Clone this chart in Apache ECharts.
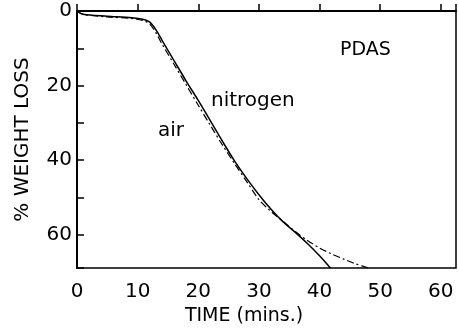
<!DOCTYPE html>
<html>
<head>
<meta charset="utf-8">
<script src="https://cdn.jsdelivr.net/npm/echarts@6/dist/echarts.min.js"></script>
<style>
  html, body { margin: 0; padding: 0; background: #fff; }
  #chart { width: 459px; height: 331px; }
</style>
</head>
<body>
<div id="chart"></div>
<script>
// Thermogravimetric weight loss of PDAS: time (min) vs % weight loss
const nitrogenTime = [0, 1, 5, 9, 11, 12, 13, 14, 16, 18, 20, 22, 24, 26, 28, 30, 32, 34, 36, 38, 40, 41.8];
const nitrogenLoss = [0, 0.9, 1.4, 1.8, 2.3, 3, 5, 7.8, 13.3, 18.8, 24, 29.5, 35, 40.3, 45, 49.3, 53.2, 56.6, 59.4, 62.4, 65.7, 69];

const airTime = [0, 1, 5, 9, 11, 12, 13, 14, 16, 18, 20, 22, 24, 26, 28, 30, 32, 34, 36, 38, 40, 42, 44, 46, 48.2];
const airLoss = [0, 0.9, 1.6, 2.0, 2.6, 3.5, 5.8, 8.8, 14.3, 19.8, 25.3, 30.7, 36, 41, 45.8, 50.6, 53.8, 56.5, 59.2, 61.6, 63.6, 65.2, 66.6, 67.9, 69];

const xTicks = [0, 10, 20, 30, 40, 50, 60];
const yLabels = [0, 20, 40, 60];

const font = '"DejaVu Sans", sans-serif';
const pair = (xs, ys) => xs.map((x, i) => [x, ys[i]]);

const chart = echarts.init(document.getElementById('chart'));
chart.setOption({
  animation: false,
  backgroundColor: '#fff',
  grid: { left: 77, top: 11, right: 2, bottom: 55, show: true, borderColor: '#000', borderWidth: 1.5, backgroundColor: 'transparent' },
  xAxis: {
    type: 'value', min: 0, max: 62.5, interval: 10,
    name: 'TIME (mins.)', nameLocation: 'middle', nameGap: 32,
    nameTextStyle: { color: '#000', fontSize: 19, fontFamily: font, padding: [0, 45, 0, 0] },
    axisLine: { show: true, lineStyle: { color: '#000', width: 2 } },
    axisTick: { show: true, inside: true, length: 7, lineStyle: { color: '#000', width: 1.5 } },
    axisLabel: {
      color: '#000', fontSize: 20, fontFamily: font, margin: 14,
      formatter: v => (xTicks.indexOf(v) >= 0 ? String(v) : '')
    },
    splitLine: { show: false }
  },
  yAxis: {
    type: 'value', inverse: true, min: 0, max: 69, interval: 10,
    name: '% WEIGHT LOSS', nameLocation: 'middle', nameGap: 44, nameRotate: 90,
    nameTextStyle: { color: '#000', fontSize: 20, fontFamily: font },
    axisLine: { show: true, lineStyle: { color: '#000', width: 2 } },
    axisTick: { show: true, inside: true, length: 7, lineStyle: { color: '#000', width: 1.5 } },
    axisLabel: {
      color: '#000', fontSize: 20, fontFamily: font, margin: 5,
      formatter: v => (yLabels.indexOf(v) >= 0 ? String(v) : '')
    },
    splitLine: { show: false }
  },
  series: [
    {
      name: 'nitrogen', type: 'line', showSymbol: false, smooth: 0.3,
      data: pair(nitrogenTime, nitrogenLoss),
      lineStyle: { color: '#000', width: 1.5 }
    },
    {
      name: 'air', type: 'line', showSymbol: false, smooth: 0.3,
      data: pair(airTime, airLoss),
      lineStyle: { color: '#000', width: 1.2, type: [7, 3, 2, 3] }
    }
  ],
  graphic: [
    { type: 'text', left: 340, top: 41, style: { text: 'PDAS', fill: '#000', font: '19px ' + font } },
    { type: 'text', left: 211, top: 91, style: { text: 'nitrogen', fill: '#000', font: '20px ' + font } },
    { type: 'text', left: 158, top: 121, style: { text: 'air', fill: '#000', font: '20px ' + font } }
  ]
});
</script>
</body>
</html>
